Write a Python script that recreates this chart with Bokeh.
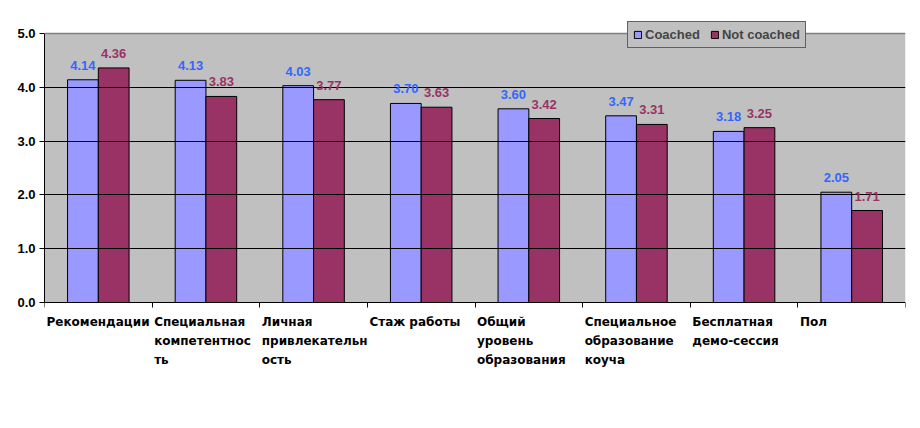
from bokeh.plotting import figure
from bokeh.core.properties import value
from bokeh.models import (
    ColumnDataSource,
    FixedTicker,
    LabelSet,
    Legend,
    LegendItem,
    PrintfTickFormatter,
    Span,
)
from bokeh.embed import file_html
from bokeh.resources import INLINE

categories = [
    "Рекомендации",
    "Специальная\nкомпетентнос\nть",
    "Личная\nпривлекательн\nость",
    "Стаж работы",
    "Общий\nуровень\nобразования",
    "Специальное\nобразование\nкоуча",
    "Бесплатная\nдемо-сессия",
    "Пол",
]
coached = [4.14, 4.13, 4.03, 3.70, 3.60, 3.47, 3.18, 2.05]
not_coached = [4.36, 3.83, 3.77, 3.63, 3.42, 3.31, 3.25, 1.71]
y_ticks = [0, 1, 2, 3, 4, 5]

n = len(categories)
bar_w = 1 / 3.5  # excel gap width 150%
pos = [i + 0.5 for i in range(n)]

# frame is taller than the value area so the legend and the category
# names (which sit outside the excel plot area) are not clipped
FRAME_W, FRAME_H = 861, 377
PX_PER_UNIT = 269 / 5.0
y_top = 5 + 15 / PX_PER_UNIT
y_bot = y_top - FRAME_H / PX_PER_UNIT

src_c = ColumnDataSource(data=dict(
    x=[p_ - bar_w / 2 for p_ in pos], y=coached,
    lab=["%.2f" % v for v in coached]))
src_n = ColumnDataSource(data=dict(
    x=[p_ + bar_w / 2 for p_ in pos], y=not_coached,
    lab=["%.2f" % v for v in not_coached]))
src_cat = ColumnDataSource(data=dict(
    x=list(range(n)), y=[0] * n, lab=categories))

p = figure(
    frame_width=FRAME_W, frame_height=FRAME_H,
    x_range=(0, n), y_range=(y_bot, y_top),
    output_backend="svg", toolbar_location=None,
    min_border_left=44, min_border_right=7,
    min_border_top=18, min_border_bottom=0,
)
p.background_fill_color = "white"
p.border_fill_color = "white"
p.outline_line_color = None

# excel plot area
p.quad(left=0, right=n, bottom=0, top=5, fill_color="#C0C0C0",
       line_color=None, level="underlay")
p.add_layout(Span(location=5, dimension="width", line_color="#808080",
                  line_width=1.5))

r_c = p.vbar(x="x", top="y", width=bar_w, source=src_c,
             fill_color="#9999FF", line_color="black", line_width=1)
r_n = p.vbar(x="x", top="y", width=bar_w, source=src_n,
             fill_color="#993366", line_color="black", line_width=1)

p.xgrid.grid_line_color = None
p.ygrid.grid_line_color = "black"
p.ygrid.grid_line_width = 1
p.ygrid.level = "glyph"
p.ygrid.ticker = FixedTicker(ticks=y_ticks[1:-1])

FONT = "Liberation Sans"

p.yaxis.ticker = FixedTicker(ticks=y_ticks)
p.yaxis.bounds = (0, 5)
p.yaxis.formatter = PrintfTickFormatter(format="%.1f")
p.yaxis.major_label_text_font = FONT
p.yaxis.major_label_text_font_style = "bold"
p.yaxis.major_label_text_font_size = "13px"
p.yaxis.major_label_text_color = "black"
p.yaxis.major_tick_out = 5
p.yaxis.major_tick_in = 0
p.yaxis.minor_tick_line_color = None
p.yaxis.major_label_standoff = 4
p.yaxis.axis_line_color = "black"

p.xaxis.ticker = FixedTicker(ticks=list(range(n + 1)))
p.xaxis.fixed_location = 0
p.xaxis.major_label_text_font_size = "0px"
p.xaxis.major_label_text_color = None
p.xaxis.major_tick_out = 5
p.xaxis.major_tick_in = 0
p.xaxis.minor_tick_line_color = None
p.xaxis.axis_line_color = "black"

lab_style = dict(text_font=value(FONT), text_font_style="bold",
                 text_font_size="13px", text_align="center",
                 text_baseline="bottom", y_offset=10)
p.add_layout(LabelSet(x="x", y="y", text="lab", source=src_c,
                      text_color="#3366FF", **lab_style))
p.add_layout(LabelSet(x="x", y="y", text="lab", source=src_n,
                      text_color="#993366", **lab_style))

# category names under the axis, left aligned like the excel original
p.add_layout(LabelSet(x="x", y="y", text="lab", source=src_cat,
                      x_offset=2, y_offset=-12,
                      text_font=value("DejaVu Sans"), text_font_style="bold",
                      text_font_size="12px", text_color="black",
                      text_align="left", text_baseline="top",
                      text_line_height=1.38))

legend = Legend(
    items=[LegendItem(label="Coached", renderers=[r_c]),
           LegendItem(label="Not coached", renderers=[r_n])],
    orientation="horizontal",
    location=(583, 347),
    background_fill_color="#C0C0C0", background_fill_alpha=1,
    border_line_color="black", border_line_width=1,
    label_text_font=FONT, label_text_font_style="bold",
    label_text_font_size="13px",
    glyph_width=9, glyph_height=9,
    label_standoff=3, spacing=10, padding=5, margin=0,
    label_height=13,
)
p.add_layout(legend, "center")

open("out.html", "w").write(file_html(p, INLINE))
